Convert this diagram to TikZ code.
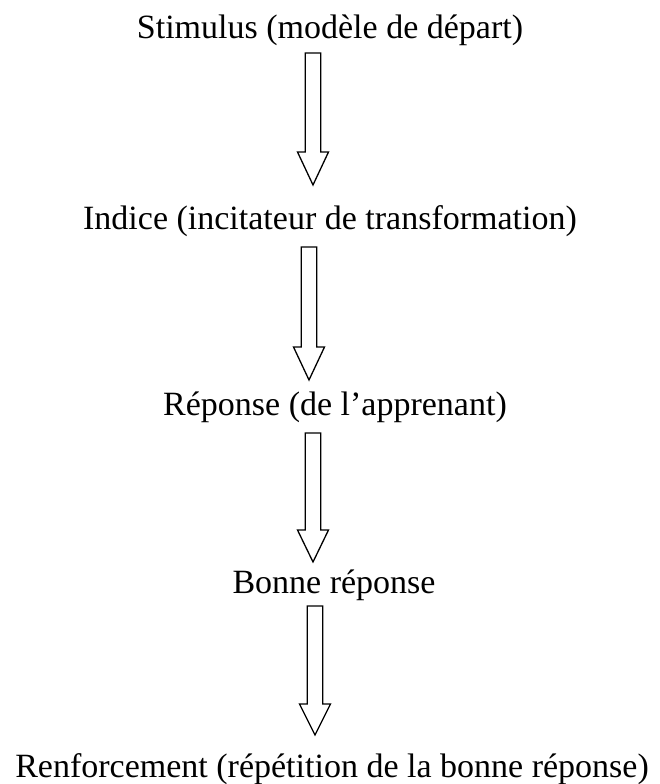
\documentclass[tikz,border=0pt]{standalone}
\usepackage{fontspec}
\setmainfont{Liberation Serif}
\newcommand\blockarr[5]{% name, cx, top, headbase, tip
  \coordinate (#1-top) at (#2,#3);
  \coordinate (#1-tip) at (#2,#5);
  \draw[blockarrow] ($(#1-top)+(-7.75,0)$) -- ($(#1-top)+(7.75,0)$) -- (#2+7.75,#4) -- (#2+15.5,#4) -- (#1-tip) -- (#2-15.5,#4) -- (#2-7.75,#4) -- cycle;}
\usetikzlibrary{calc}
\begin{document}
\begin{tikzpicture}[x=1pt,y=-1pt,
  lbl/.style={anchor=base, inner sep=0pt, font=\fontsize{34}{40}\selectfont},
  blockarrow/.style={draw=black, line width=1.3pt, fill=white, line join=miter}]
\useasboundingbox (0,0) rectangle (659,784);
\node[lbl] (s1) at (330,39) {Stimulus (modèle de départ)};
\node[lbl] (s2) at (330,229) {Indice (incitateur de transformation)};
\node[lbl] (s3) at (335,415) {Réponse (de l’apprenant)};
\node[lbl] (s4) at (334,593) {Bonne réponse};
\node[lbl] (s5) at (332,777) {Renforcement (répétition de la bonne réponse)};
\blockarr{a1}{313}{53}{152}{185}
\blockarr{a2}{309}{247}{347}{380}
\blockarr{a3}{313}{433}{530}{562}
\blockarr{a4}{315}{606}{704}{735}
\end{tikzpicture}
\end{document}
